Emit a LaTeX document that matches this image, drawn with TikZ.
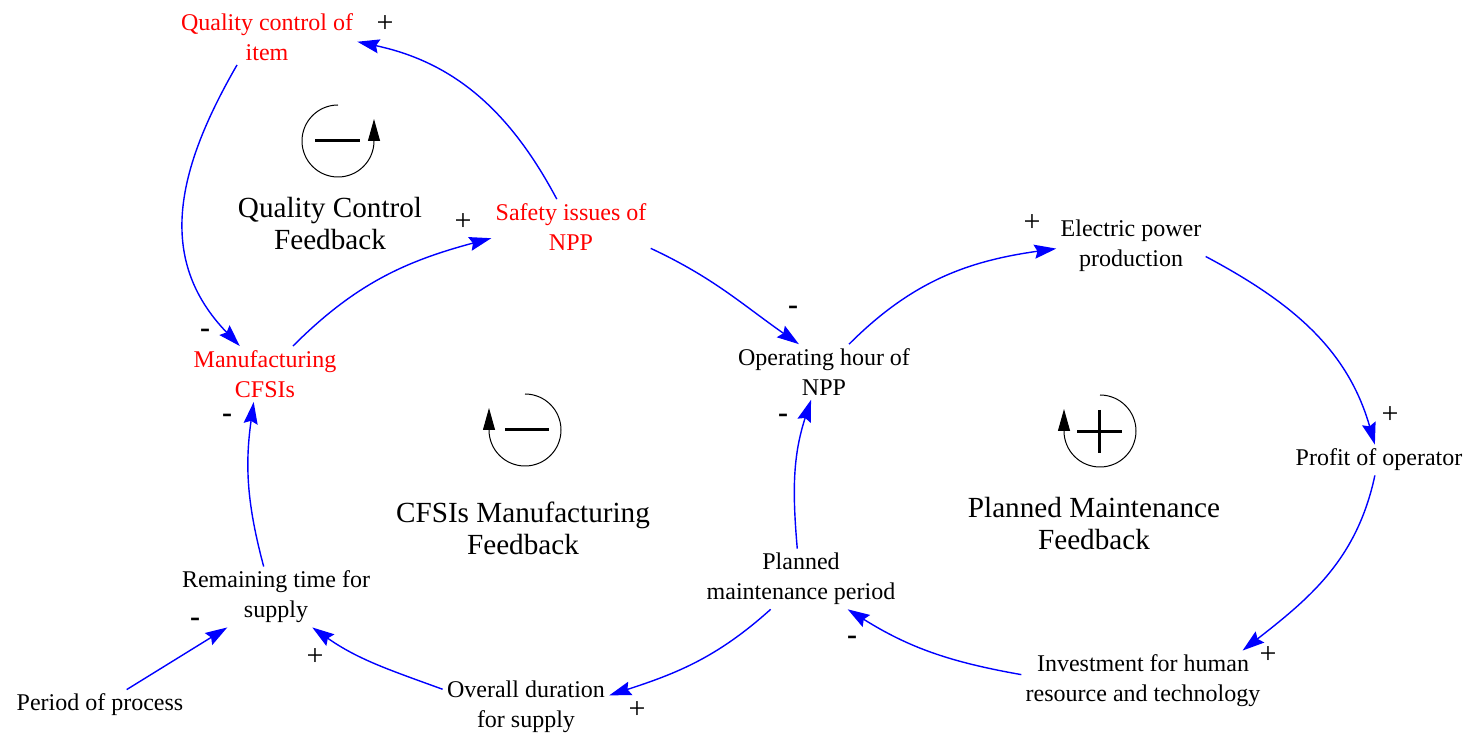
\documentclass[tikz,border=0pt]{standalone}
\usepackage{fontspec}
\setmainfont{Liberation Serif}
\usetikzlibrary{arrows.meta}

\begin{document}
\begin{tikzpicture}[x=0.5pt,y=0.5pt,->,>={Stealth[length=11pt,width=7pt,inset=1.5pt]},
  link/.style={blue,line width=0.7pt},
  main node/.style={align=center,inner sep=2pt,font=\fontsize{12}{15}\selectfont},
  red node/.style={main node,text=red},
  loop name/.style={align=center,inner sep=2pt,font=\fontsize{14.6}{16}\selectfont},
  sign/.style={inner sep=0pt,font=\fontsize{15}{16}\selectfont},
  loop circle/.style={-{Triangle[length=11pt,width=6pt]},line width=0.5pt},
  loop bar/.style={-,line width=1.5pt}]

  \useasboundingbox (0,0) rectangle (1474,-737);

  % variables
  \node[red node] (qc) at (267,-37) {Quality control of\\item};
  \node[red node] (safety) at (571,-227) {Safety issues of\\NPP};
  \node[red node] (mfg) at (265,-374) {Manufacturing\\CFSIs};
  \node[main node] (op) at (824,-372) {Operating hour of\\NPP};
  \node[main node] (elec) at (1131,-246) {Electric power\\production};
  \node[main node] (profit) at (1379,-460) {Profit of operator};
  \node[main node] (inv) at (1143,-681) {Investment for human\\resource and technology};
  \node[main node] (pm) at (801,-579) {Planned\\maintenance period};
  \node[main node] (ov) at (526,-707) {Overall duration\\for supply};
  \node[main node] (rem) at (276,-597) {Remaining time for\\supply};
  \node[main node] (period) at (100,-705) {Period of process};

  % loop names
  \node[loop name] (qcf) at (330,-224) {Quality Control\\Feedback};
  \node[loop name] (cmf) at (523,-528) {CFSIs Manufacturing\\Feedback};
  \node[loop name] (pmf) at (1094,-524) {Planned Maintenance\\Feedback};

  % loop symbols
  \draw[loop circle] (338,-105) arc[start angle=90,end angle=360,radius=36] -- (374,-119);
  \draw[loop bar] (315,-141) -- (360,-141);
  \draw[loop circle] (525,-394) arc[start angle=90,end angle=-180,radius=36] -- (489,-408);
  \draw[loop bar] (505,-430) -- (549,-430);
  \draw[loop circle] (1100,-395) arc[start angle=90,end angle=-180,radius=36] -- (1064,-409);
  \draw[loop bar] (1077,-432) -- (1122,-432);
  \draw[loop bar] (1099,-410) -- (1099,-453);

  \path[link]
    (safety.117) edge[out=118,in=-12] (qc.-3)
    (qc.223) edge[out=-120,in=134,looseness=1.1] (mfg.132)
    (mfg.45) edge[out=45,in=195] (safety.188)
    (safety.-15) edge[out=-25,in=145] (op.132)
    (op.48) edge[out=45,in=188] (elec.182)
    (elec.-8) edge[out=-28,in=106] (profit.105)
    (profit.-105) edge[out=-102,in=38] (inv.17)
    (inv.177) edge[out=170,in=-32] (pm.-33)
    (pm.97) edge[out=95,in=-108] (op.-115)
    (pm.-135) edge[out=-138,in=18] (ov.8)
    (ov.168) edge[out=160,in=-35] (rem.-40)
    (period.30) edge (rem.-148)
    (rem.112) edge[out=105,in=-98] (mfg.-112);

  % polarities
  \node[sign] (s1) at (385,-24) {+};
  \node[sign] (s2) at (463,-222) {+};
  \node[sign] (s3) at (205,-333) {\textbf{-}};
  \node[sign] (s4) at (227,-418) {\textbf{-}};
  \node[sign] (s5) at (793,-310) {\textbf{-}};
  \node[sign] (s6) at (783,-418) {\textbf{-}};
  \node[sign] (s7) at (1032,-223) {+};
  \node[sign] (s8) at (1390,-415) {+};
  \node[sign] (s9) at (1268,-655) {+};
  \node[sign] (s10) at (852,-640) {\textbf{-}};
  \node[sign] (s11) at (637,-710) {+};
  \node[sign] (s12) at (195,-622) {\textbf{-}};
  \node[sign] (s13) at (315,-657) {+};
\end{tikzpicture}
\end{document}
